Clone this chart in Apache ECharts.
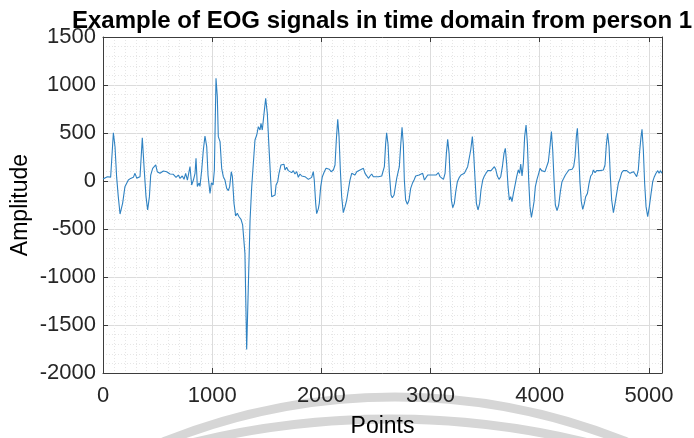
<!DOCTYPE html>
<html>
<head>
<meta charset="utf-8">
<script src="https://cdn.jsdelivr.net/npm/echarts@6/dist/echarts.min.js"></script>
<style>
  html, body { margin: 0; padding: 0; background: #ffffff; }
  #chart { width: 694px; height: 438px; }
</style>
</head>
<body>
<div id="chart"></div>
<script>
// EOG recording, person 1: sample index and amplitude
const pointIndex = [
  0, 40, 70, 95, 110, 125, 140, 156, 180, 201, 232, 253, 278, 293, 309, 339, 360, 378, 394, 409,
  425, 437, 455, 467, 483, 497, 522, 553, 583, 614, 644, 669, 690, 705, 726, 742, 757, 773, 788, 797,
  812, 828, 843, 852, 864, 880, 888, 904, 919, 934, 950, 962, 980, 993, 1008, 1020, 1035, 1047, 1056, 1072,
  1087, 1102, 1117, 1133, 1148, 1160, 1175, 1185, 1200, 1215, 1230, 1246, 1264, 1279, 1295, 1300, 1316, 1331, 1347, 1362,
  1377, 1392, 1408, 1423, 1438, 1447, 1459, 1475, 1490, 1505, 1520, 1536, 1545, 1560, 1576, 1585, 1600, 1612, 1630, 1646,
  1658, 1667, 1682, 1697, 1713, 1728, 1743, 1758, 1774, 1789, 1804, 1820, 1835, 1850, 1865, 1881, 1896, 1911, 1926, 1935,
  1948, 1957, 1972, 1981, 1994, 2009, 2027, 2043, 2058, 2073, 2089, 2110, 2125, 2137, 2150, 2162, 2174, 2186, 2201, 2217,
  2232, 2247, 2262, 2278, 2293, 2308, 2324, 2339, 2354, 2369, 2385, 2400, 2415, 2431, 2446, 2461, 2476, 2491, 2522, 2553,
  2568, 2577, 2589, 2598, 2611, 2623, 2638, 2650, 2666, 2681, 2690, 2705, 2714, 2727, 2739, 2751, 2760, 2772, 2788, 2803,
  2818, 2834, 2849, 2864, 2879, 2895, 2913, 2928, 2944, 2959, 2974, 2990, 3011, 3026, 3050, 3072, 3087, 3103, 3118, 3133,
  3145, 3157, 3170, 3179, 3191, 3203, 3218, 3231, 3246, 3264, 3279, 3294, 3310, 3325, 3340, 3356, 3368, 3383, 3395, 3408,
  3420, 3435, 3450, 3462, 3478, 3493, 3508, 3524, 3539, 3554, 3569, 3585, 3597, 3612, 3627, 3643, 3658, 3673, 3685, 3697,
  3710, 3722, 3734, 3746, 3759, 3774, 3789, 3804, 3816, 3826, 3838, 3850, 3862, 3875, 3887, 3899, 3911, 3924, 3936, 3948,
  3960, 3975, 3991, 4003, 4018, 4033, 4048, 4064, 4079, 4094, 4107, 4119, 4131, 4143, 4159, 4174, 4189, 4204, 4220, 4235,
  4250, 4266, 4281, 4296, 4311, 4324, 4336, 4345, 4357, 4369, 4381, 4394, 4409, 4421, 4437, 4452, 4467, 4482, 4491, 4507,
  4522, 4537, 4552, 4568, 4583, 4598, 4610, 4622, 4635, 4647, 4659, 4675, 4690, 4705, 4720, 4736, 4751, 4766, 4781, 4797,
  4812, 4827, 4842, 4858, 4873, 4888, 4903, 4915, 4928, 4937, 4949, 4961, 4974, 4989, 5004, 5020, 5035, 5050, 5065, 5081,
  5093, 5105, 5119
];
const amplitude = [
  20, 45, 40, 503, 357, 40, -163, -344, -230, -59, 10, 27, 38, 80, 30, 44, 451, 111, -163, -302,
  -163, 62, 132, 115, 167, 97, 80, 104, 97, 73, 70, 38, 62, 28, 52, 17, 80, 10, 97, 149,
  -42, 10, 80, 236, -56, -21, -56, 115, 323, 469, 358, 60, -129, -20, -42, 115, 1070, 878, 462, 410,
  132, 45, 10, -77, -101, -59, 97, 45, -233, -365, -337, -372, -399, -458, -476, -754, -1754, -1101, -406, -59,
  184, 427, 479, 566, 531, 600, 531, 705, 861, 705, 358, 10, -163, -170, -146, -42, -7, 80, 167, 156,
  174, 115, 142, 108, 122, 87, 108, 73, 97, 38, 73, 52, 62, 45, 52, 17, 28, 38, 97, 10,
  -233, -340, -290, -233, -59, 45, 97, 132, 115, 122, 97, 115, 167, 427, 643, 462, 115, -163, -330, -267,
  -198, -94, 10, 80, 97, 62, 97, 80, 115, 108, 132, 80, 62, 28, 52, 73, 45, 45, 45, 52,
  62, 149, 392, 503, 378, 80, -146, -174, -146, -136, 28, 45, 149, 378, 559, 378, 10, -198, -243, -198,
  -77, -24, 10, 52, 38, 62, 52, 80, 10, 28, 62, 45, 62, 52, 62, 87, 45, 52, 17, 80,
  288, 434, 288, 45, -198, -278, -233, -111, -7, 38, 62, 73, 80, 62, 149, 149, 323, 462, 288, 10,
  -233, -302, -233, -94, 10, 52, 80, 108, 122, 108, 115, 149, 122, 52, 17, 45, 149, 288, 340, 184,
  -59, -198, -163, -215, -129, -42, 45, 115, 80, 177, 52, 184, 462, 583, 392, 10, -267, -379, -302, -215,
  -59, 17, 80, 132, 108, 122, 97, 110, 201, 358, 514, 323, 10, -250, -309, -250, -111, -7, 28, 62,
  80, 115, 97, 122, 149, 253, 469, 549, 288, -24, -215, -295, -233, -163, -129, -24, 52, 73, 115, 87,
  108, 97, 108, 97, 115, 167, 375, 497, 358, 45, -198, -330, -233, -129, -24, 28, 87, 108, 97, 108,
  97, 80, 87, 97, 73, 45, 115, 306, 462, 538, 323, -24, -267, -372, -267, -129, -7, 45, 80, 108,
  80, 108, 80
];

// Axis ranges and tick labels
const xRange = [0, 5120];
const yRange = [-2000, 1500];
const xTickStep = 1000;
const yTickStep = 500;
const minorStep = 100;

const titleText = 'Example of EOG signals in time domain from person 1';
const xName = 'Points';
const yName = 'Amplitude';

const FONT = '"Liberation Sans", Arial, Helvetica, sans-serif';
const AXIS_COLOR = '#3c3c3c';
const LABEL_COLOR = '#262626';
const MAJOR_GRID = '#dcdcdc';
const MINOR_GRID = '#e6e6e6';

const chart = echarts.init(document.getElementById('chart'), null, { renderer: 'canvas' });

const seriesData = pointIndex.map((x, i) => [x, amplitude[i]]);

const hidden = { show: false };
const plainNumber = (v) => String(v);

chart.setOption({
  animation: false,
  backgroundColor: '#ffffff',
  title: {
    text: titleText,
    left: 377,
    top: 4,
    textAlign: 'center',
    textStyle: { fontFamily: FONT, fontSize: 24, fontWeight: 'bold', color: '#000000' }
  },
  graphic: [
    {
      type: 'circle', silent: true, z: -10,
      shape: { cx: 395, cy: 1016, r: 619 },
      style: { fill: 'none', stroke: '#d6d6d6', lineWidth: 9 }
    },
    {
      type: 'circle', silent: true, z: -10,
      shape: { cx: 390, cy: 1248, r: 829 },
      style: { fill: 'none', stroke: '#d6d6d6', lineWidth: 9 }
    }
  ],
  grid: { left: 103, right: 32, top: 37, bottom: 65, containLabel: false, outerBoundsMode: 'none' },
  xAxis: [
    {
      // dotted minor grid
      type: 'value', min: xRange[0], max: xRange[1], interval: minorStep, position: 'bottom',
      axisLine: hidden, axisTick: hidden, axisLabel: hidden,
      splitLine: { show: true, lineStyle: { color: MINOR_GRID, width: 1, type: [1, 2] } }
    },
    {
      type: 'value', min: xRange[0], max: xRange[1], interval: xTickStep, position: 'bottom',
      name: xName, nameLocation: 'middle', nameGap: 42, nameMoveOverlap: false,
      nameTextStyle: { fontFamily: FONT, fontSize: 23, color: '#000000' },
      axisLine: { show: true, onZero: false, lineStyle: { color: AXIS_COLOR, width: 1 } },
      axisTick: { show: true, inside: true, length: 5, lineStyle: { color: AXIS_COLOR } },
      axisLabel: { fontFamily: FONT, fontSize: 22, color: LABEL_COLOR, margin: 12, showMaxLabel: false, formatter: plainNumber },
      splitLine: { show: true, lineStyle: { color: MAJOR_GRID, width: 1 } }
    },
    {
      type: 'value', min: xRange[0], max: xRange[1], interval: xTickStep, position: 'top',
      axisLine: { show: true, onZero: false, lineStyle: { color: AXIS_COLOR, width: 1 } },
      axisTick: { show: true, inside: true, length: 5, lineStyle: { color: AXIS_COLOR } },
      axisLabel: hidden, splitLine: hidden
    }
  ],
  yAxis: [
    {
      type: 'value', min: yRange[0], max: yRange[1], interval: minorStep, position: 'left',
      axisLine: hidden, axisTick: hidden, axisLabel: hidden,
      splitLine: { show: true, lineStyle: { color: MINOR_GRID, width: 1, type: [1, 2] } }
    },
    {
      type: 'value', min: yRange[0], max: yRange[1], interval: yTickStep, position: 'left',
      name: yName, nameLocation: 'middle', nameGap: 71, nameRotate: 90, nameMoveOverlap: false,
      nameTextStyle: { fontFamily: FONT, fontSize: 23, color: '#000000' },
      axisLine: { show: true, onZero: false, lineStyle: { color: AXIS_COLOR, width: 1 } },
      axisTick: { show: true, inside: true, length: 5, lineStyle: { color: AXIS_COLOR } },
      axisLabel: { fontFamily: FONT, fontSize: 22, color: LABEL_COLOR, margin: 7, formatter: plainNumber },
      splitLine: { show: true, lineStyle: { color: MAJOR_GRID, width: 1 } }
    },
    {
      type: 'value', min: yRange[0], max: yRange[1], interval: yTickStep, position: 'right',
      axisLine: { show: true, onZero: false, lineStyle: { color: AXIS_COLOR, width: 1 } },
      axisTick: { show: true, inside: true, length: 5, lineStyle: { color: AXIS_COLOR } },
      axisLabel: hidden, splitLine: hidden
    }
  ],
  series: [
    {
      type: 'line',
      xAxisIndex: 1,
      yAxisIndex: 1,
      data: seriesData,
      showSymbol: false,
      symbol: 'none',
      clip: true,
      lineStyle: { color: '#2f82c2', width: 1.1 }
    }
  ]
});
</script>
</body>
</html>
